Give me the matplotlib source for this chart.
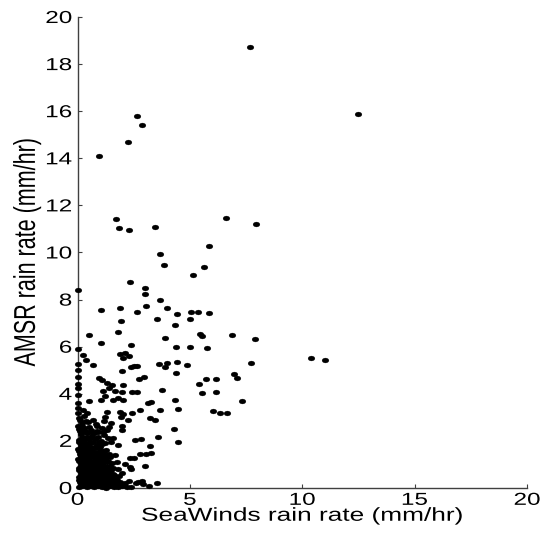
import numpy as np
import matplotlib
matplotlib.use("Agg")
import matplotlib.pyplot as plt
from matplotlib.path import Path
from matplotlib.transforms import Affine2D
from matplotlib.patheffects import AbstractPathEffect

# scattered collocations (SeaWinds, AMSR) in mm/hr
sparse_sw = [7.68, 12.48, 0.96, 2.25, 2.65, 2.87, 1.73, 1.85, 2.28, 3.44, 6.60, 7.94,
             3.68, 3.86, 5.87, 5.64, 5.15, 2.32, 0.02, 3.00, 3.02, 3.67, 1.05, 1.89,
             3.04, 3.98, 2.65, 4.44, 5.06, 5.35, 5.87, 1.95, 3.55, 4.99, 4.35, 0.51,
             1.80, 3.88, 5.45, 5.55, 6.89, 7.89, 5.75, 10.41, 11.01, 7.74, 6.95, 7.10,
             6.16, 6.16, 5.55, 5.70, 7.34, 6.03, 6.33, 6.67, 4.37, 4.99, 2.63, 3.63,
             3.97, 3.89, 4.44, 4.89, 4.38, 2.74, 2.97, 5.41, 3.75, 2.66, 3.15, 3.27,
             4.33, 2.80, 3.67, 4.49, 3.21, 3.45, 4.29, 3.60, 2.83, 2.57, 4.47, 3.24,
             2.77, 3.04, 3.27, 3.02, 2.71, 2.88, 2.92, 3.18, 3.52, 2.59]
sparse_amsr = [18.73, 15.88, 14.10, 14.69, 15.80, 15.41, 11.41, 11.05, 10.94, 11.10, 11.48, 11.22,
               9.95, 9.48, 10.28, 9.40, 9.04, 8.76, 8.39, 8.48, 8.23, 8.00, 7.56, 7.64,
               7.74, 7.66, 7.47, 7.38, 7.46, 7.49, 7.43, 7.09, 7.18, 7.16, 6.91, 6.48,
               6.62, 6.38, 6.53, 6.45, 6.48, 6.31, 5.96, 5.53, 5.45, 5.29, 4.83, 4.67,
               4.61, 4.09, 4.04, 4.62, 3.68, 3.28, 3.17, 3.20, 5.97, 5.97, 5.17, 5.28,
               5.29, 5.12, 5.35, 5.21, 4.87, 4.64, 4.70, 4.42, 4.17, 4.06, 3.62, 3.66,
               3.74, 3.30, 3.31, 3.37, 2.96, 2.87, 2.52, 2.17, 2.09, 2.02, 1.97, 1.77,
               1.43, 1.46, 1.47, 0.93, 0.25, 0.30, 0.17, 0.08, 0.20, 0.23]

# moderate rain, SeaWinds below ~2.7 mm/hr
mid_sw = [1.06, 2.38, 0.00, 0.23, 0.38, 0.68, 1.89, 2.11, 2.31, 2.04, 2.38, 2.51, 1.99,
          0.97, 1.08, 1.30, 1.52, 1.42, 1.12, 1.67, 1.97, 2.41, 2.01, 1.22, 1.03, 1.59,
          1.82, 2.04, 0.53, 1.30, 1.89, 2.41, 0.26, 0.41,
          0.00, 0.00, 0.00, 0.00, 0.00, 0.00, 0.00, 0.00, 0.00]
mid_amsr = [6.14, 6.07, 5.92, 5.66, 5.44, 5.21, 5.68, 5.72, 5.62, 5.54, 5.15, 5.18, 4.98,
            4.66, 4.59, 4.44, 4.37, 4.23, 4.12, 4.12, 4.09, 4.09, 4.37, 3.91, 3.74, 3.74,
            3.81, 3.74, 3.71, 3.24, 3.24, 3.20, 3.31, 3.17,
            5.27, 5.01, 4.73, 4.42, 4.23, 3.95, 3.62, 3.38, 3.17]

# light rain cluster near the origin
low_sw = [0.05, 0.22, 0.40, 0.58, 0.75, 0.93, 1.10, 1.28, 1.45, 1.62, 1.80, 1.98, 2.20, 2.40,
          0.12, 0.30, 0.48, 0.66, 0.85, 1.02, 1.20, 1.38, 1.55, 1.72, 1.90, 2.11, 2.30,
          0.05, 0.25, 0.42, 0.60, 0.78, 0.96, 1.15, 1.32, 1.50, 1.68, 1.85,
          0.15, 0.33, 0.52, 0.70, 0.88, 1.06, 1.24, 1.42, 1.60, 1.97,
          0.06, 0.24, 0.42, 0.60, 0.80, 0.98, 1.18, 1.36, 1.58, 1.80, 2.37,
          0.14, 0.32, 0.50, 0.70, 0.90, 1.10, 1.30, 1.55, 1.75, 2.11, 2.34,
          0.04, 0.22, 0.42, 0.62, 0.82, 1.02, 1.22, 1.45, 2.35, 2.51,
          0.12, 0.32, 0.52, 0.74, 0.95, 1.15, 1.40, 1.65,
          0.04, 0.24, 0.45, 0.66, 0.90, 1.25,
          0.14, 0.36, 0.60, 0.85, 1.10, 1.79, 1.50,
          0.05, 0.28, 0.52, 0.78, 1.05, 1.35,
          0.16, 0.40, 0.73, 0.93, 1.20,
          0.06, 0.30, 0.62, 1.08, 1.30, 1.99,
          0.18, 0.45, 0.82, 1.50, 1.97,
          0.08, 0.30, 1.21, 1.92, 2.04, 2.26]
low_amsr = [0.05, 0.08, 0.03, 0.07, 0.04, 0.09, 0.05, 0.02, 0.08, 0.05, 0.03, 0.07, 0.04, 0.06,
            0.25, 0.20, 0.28, 0.22, 0.30, 0.20, 0.27, 0.22, 0.30, 0.20, 0.26, 0.23, 0.30,
            0.45, 0.48, 0.42, 0.50, 0.44, 0.47, 0.42, 0.50, 0.45, 0.40, 0.50,
            0.66, 0.62, 0.70, 0.64, 0.68, 0.62, 0.70, 0.66, 0.60, 0.64,
            0.86, 0.88, 0.82, 0.90, 0.84, 0.88, 0.82, 0.90, 0.85, 0.80, 0.79,
            1.05, 1.02, 1.10, 1.04, 1.08, 1.00, 1.10, 1.05, 1.12, 1.02, 0.90,
            1.25, 1.28, 1.22, 1.30, 1.24, 1.28, 1.22, 1.30, 1.26, 1.29,
            1.45, 1.48, 1.42, 1.50, 1.44, 1.50, 1.45, 1.40,
            1.66, 1.62, 1.70, 1.64, 1.68, 1.62,
            1.86, 1.82, 1.90, 1.84, 1.88, 1.83, 1.95,
            2.05, 2.02, 2.10, 2.06, 2.00, 2.12,
            2.28, 2.32, 2.32, 2.39, 2.25,
            2.52, 2.55, 2.48, 2.53, 2.46, 2.46,
            2.75, 2.80, 2.72, 2.78, 2.65,
            2.98, 3.05, 3.03, 3.03, 3.13, 2.89]

# the densest part of the cluster, drizzle on both sensors
drizzle_sw = [0.14, 0.31, 0.49, 0.67, 0.84, 1.01, 1.19, 1.37, 1.54, 1.71, 1.89, 2.05,
              0.08, 0.26, 0.44, 0.62, 0.80, 0.97, 1.14, 1.33, 1.51, 1.77,
              0.16, 0.34, 0.51, 0.69, 0.87, 1.04, 1.22, 1.40, 1.62,
              0.07, 0.25, 0.43, 0.61, 0.79, 0.96, 1.14, 1.32, 1.49,
              0.15, 0.33, 0.51, 0.69, 0.88, 1.05, 1.24, 1.44,
              0.08, 0.26, 0.44, 0.62, 0.81, 0.99, 1.18, 1.36,
              0.16, 0.34, 0.53, 0.71, 0.89, 1.08, 1.27,
              0.07, 0.27, 0.46, 0.65, 0.84, 1.03, 1.20,
              0.15, 0.35, 0.56, 0.77, 0.99,
              0.08, 0.25, 0.47, 0.70, 0.95, 1.22,
              0.18, 0.42, 0.66, 0.92, 1.58,
              0.10, 0.35, 0.60, 0.88, 1.15,
              0.04, 0.22, 0.52, 0.85, 1.40,
              0.12, 0.38, 0.70, 1.18]
drizzle_amsr = [0.13, 0.15, 0.12, 0.16, 0.14, 0.12, 0.15, 0.13, 0.16, 0.12, 0.14, 0.15,
                0.35, 0.37, 0.33, 0.38, 0.34, 0.36, 0.32, 0.38, 0.35, 0.33,
                0.55, 0.57, 0.53, 0.58, 0.55, 0.52, 0.57, 0.54, 0.56,
                0.76, 0.74, 0.78, 0.75, 0.73, 0.77, 0.75, 0.72, 0.78,
                0.95, 0.97, 0.93, 0.96, 0.94, 0.98, 0.95, 0.93,
                1.15, 1.17, 1.13, 1.16, 1.14, 1.18, 1.15, 1.13,
                1.35, 1.37, 1.33, 1.36, 1.34, 1.38, 1.35,
                1.55, 1.57, 1.53, 1.56, 1.54, 1.58, 1.55,
                1.75, 1.77, 1.73, 1.76, 1.74,
                1.95, 1.97, 1.93, 1.96, 1.94, 1.92,
                2.17, 2.15, 2.19, 2.16, 2.14,
                2.40, 2.42, 2.38, 2.41, 2.36,
                2.63, 2.65, 2.61, 2.64, 2.60,
                2.88, 2.86, 2.90, 2.84]

x_ticks = [0, 5, 10, 15, 20]
y_ticks = [0, 2, 4, 6, 8, 10, 12, 14, 16, 18, 20]

seawinds = np.array(sparse_sw + mid_sw + low_sw + drizzle_sw)
amsr = np.array(sparse_amsr + mid_amsr + low_amsr + drizzle_amsr)


class StretchX(AbstractPathEffect):
    """Widen text glyphs horizontally, keeping one edge (or the centre) fixed."""

    def __init__(self, sx, anchor="center"):
        super().__init__()
        self.sx = sx
        self.anchor = anchor

    def draw_path(self, renderer, gc, tpath, affine, rgbFace=None):
        ext = tpath.get_extents(affine)
        if self.anchor == "right":
            cx = ext.x1
        elif self.anchor == "left":
            cx = ext.x0
        else:
            cx = 0.5 * (ext.x0 + ext.x1)
        t = affine + Affine2D().translate(-cx, 0).scale(self.sx, 1).translate(cx, 0)
        renderer.draw_path(gc, tpath, t, rgbFace)


plt.rcParams["font.family"] = ["Liberation Sans", "DejaVu Sans"]

fig = plt.figure(figsize=(5.49, 5.35), dpi=100)
ax = fig.add_axes([0.1412, 0.0879, 0.8188, 0.8803])

dot = Path.unit_circle().transformed(Affine2D().scale(1.0, 0.72))
ax.plot(seawinds, amsr, linestyle="none", marker=dot, ms=4.9,
        color="black", mec="black", mew=0.2, clip_on=False, zorder=3)

ax.set_xlim(0, 20)
ax.set_ylim(0, 20)
ax.set_xticks(x_ticks)
ax.set_yticks(y_ticks)
for side in ["top", "right"]:
    ax.spines[side].set_visible(False)
for side in ["left", "bottom"]:
    ax.spines[side].set_color("#404040")
    ax.spines[side].set_linewidth(1.0)
ax.tick_params(direction="in", length=3, width=0.8, color="#404040", labelsize=12.5)
ax.tick_params(axis="y", pad=4)
ax.tick_params(axis="x", pad=3.5)

ax.set_xlabel("SeaWinds rain rate (mm/hr)", fontsize=13.5)
ax.set_ylabel("AMSR rain rate (mm/hr)", fontsize=15.5, va="center")
ax.xaxis.set_label_coords(0.5, -0.042)
ax.yaxis.set_label_coords(-0.112, 0.5)

for lab in ax.get_xticklabels():
    lab.set_path_effects([StretchX(1.4)])
for lab in ax.get_yticklabels():
    lab.set_path_effects([StretchX(1.4, "right")])
ax.xaxis.label.set_path_effects([StretchX(1.4)])
ax.yaxis.label.set_path_effects([StretchX(1.4)])

fig.savefig("out.png", dpi=100)
